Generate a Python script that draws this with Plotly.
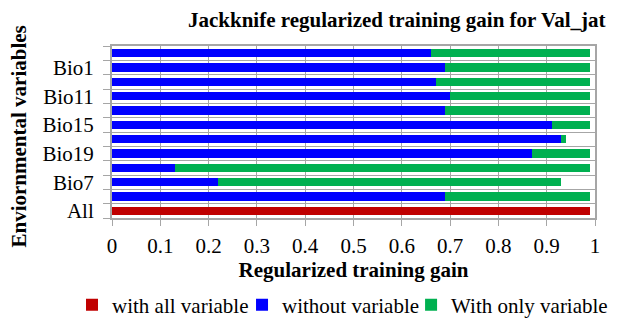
import plotly.graph_objects as go

# categories from bottom to top
categories = ["All", "Bio9", "Bio7", "Bio4", "Bio19", "Bio18", "Bio15", "Bio14", "Bio11", "Bio10", "Bio1", "Alt"]
shown_labels = ["All", "Bio7", "Bio19", "Bio15", "Bio11", "Bio1"]
with_all = [0.99, None, None, None, None, None, None, None, None, None, None, None]
without_var = [None, 0.69, 0.22, 0.13, 0.87, 0.93, 0.91, 0.69, 0.70, 0.67, 0.69, 0.66]
with_only_end = [None, 0.99, 0.93, 0.99, 0.99, 0.94, 0.99, 0.99, 0.99, 0.99, 0.99, 0.99]
with_only = [None if (e is None) else round(e - b, 3) for e, b in zip(with_only_end, without_var)]

x_ticks = [0, 0.1, 0.2, 0.3, 0.4, 0.5, 0.6, 0.7, 0.8, 0.9, 1]
x_ticktext = ["0", "0.1", "0.2", "0.3", "0.4", "0.5", "0.6", "0.7", "0.8", "0.9", "1"]

FONT = "Liberation Serif, Times New Roman, serif"
FS = 21

fig = go.Figure()
fig.add_trace(go.Bar(y=categories, x=with_all, orientation="h", name="with all variable",
                     legend="legend", marker=dict(color="#C00000", line=dict(width=0))))
fig.add_trace(go.Bar(y=categories, x=without_var, orientation="h", name="without variable",
                     legend="legend2", marker=dict(color="#0000FF", line=dict(width=0))))
fig.add_trace(go.Bar(y=categories, x=with_only, orientation="h", name="With only variable",
                     legend="legend3", marker=dict(color="#00B050", line=dict(width=0))))


def leg(x):
    return dict(orientation="h", x=x, xanchor="left", y=-0.506, yanchor="middle",
                font=dict(family=FONT, size=FS, color="black"), itemwidth=30,
                bgcolor="rgba(0,0,0,0)")


# page body has an 8px margin, so the figure is sized/placed to compensate
fig.update_layout(
    width=609, height=311,
    margin=dict(l=104, r=22, t=38, b=101, autoexpand=False),
    barmode="stack", bargap=0.44,
    plot_bgcolor="white", paper_bgcolor="white",
    font=dict(family=FONT, size=FS, color="black"),
    showlegend=True,
    legend=leg(-0.0828),
    legend2=leg(0.2692),
    legend3=leg(0.6192),
    xaxis=dict(range=[0, 1], tickvals=x_ticks, ticktext=x_ticktext,
               showgrid=True, gridcolor="#A6A6A6", gridwidth=1,
               ticks="outside", ticklen=6, tickcolor="#A6A6A6", ticklabelstandoff=2,
               showline=True, linecolor="#A6A6A6", linewidth=2, mirror=True,
               zeroline=False, tickfont=dict(family=FONT, size=FS), automargin=False,
               title=dict(text="<b>Regularized training gain</b>", font=dict(family=FONT, size=FS), standoff=5)),
    yaxis=dict(type="category", categoryorder="array", categoryarray=categories,
               tickvals=categories,
               ticktext=[c if c in shown_labels else "" for c in categories],
               tickson="boundaries", showgrid=True, gridcolor="#A6A6A6", gridwidth=1,
               ticks="outside", ticklen=7, tickcolor="#A6A6A6", ticklabelstandoff=12,
               showline=True, linecolor="#A6A6A6", linewidth=2, mirror=True, automargin=False,
               zeroline=False, tickfont=dict(family=FONT, size=FS), range=[-0.5, 11.5]),
    annotations=[
        dict(text="<b>Jackknife regularized training gain for Val_jat</b>",
             xref="paper", yref="paper", x=1.0248, y=1.0, xanchor="right", yanchor="middle",
             yshift=26, showarrow=False, font=dict(family=FONT, size=FS)),
        dict(text="<b>Enviornmental variables</b>", textangle=-90,
             xref="paper", yref="paper", x=-0.1925, y=0.474, xanchor="center", yanchor="middle",
             showarrow=False, font=dict(family=FONT, size=FS)),
    ],
)

fig.write_html("out.html")
